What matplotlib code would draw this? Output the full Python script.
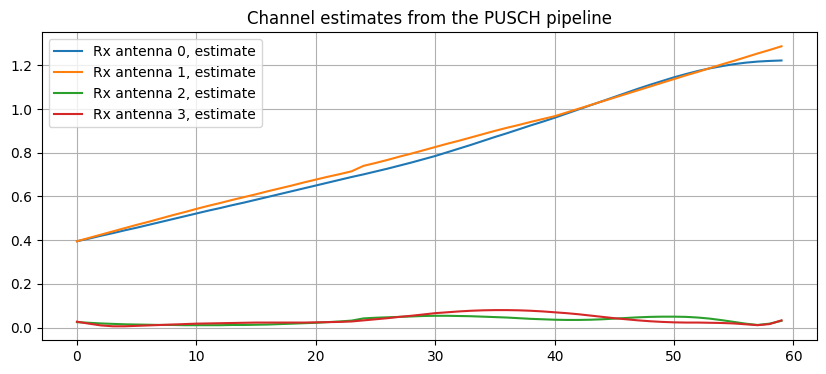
import numpy as np
import matplotlib
matplotlib.use('Agg')
import matplotlib.pyplot as plt

subcarrier = np.arange(60)

ant0 = [0.395, 0.407, 0.420, 0.432, 0.445, 0.457, 0.470, 0.483, 0.496, 0.509,
        0.522, 0.535, 0.547, 0.560, 0.572, 0.585, 0.598, 0.611, 0.624, 0.637,
        0.650, 0.663, 0.676, 0.689, 0.701, 0.714, 0.727, 0.741, 0.755, 0.770,
        0.785, 0.802, 0.819, 0.836, 0.854, 0.872, 0.889, 0.907, 0.925, 0.942,
        0.960, 0.979, 0.998, 1.017, 1.036, 1.055, 1.074, 1.093, 1.111, 1.128,
        1.145, 1.160, 1.174, 1.186, 1.196, 1.205, 1.212, 1.217, 1.220, 1.222]

ant1 = [0.395, 0.410, 0.425, 0.440, 0.455, 0.470, 0.484, 0.499, 0.514, 0.528,
        0.543, 0.557, 0.570, 0.584, 0.597, 0.610, 0.624, 0.637, 0.650, 0.664,
        0.677, 0.690, 0.702, 0.715, 0.740, 0.753, 0.767, 0.782, 0.796, 0.811,
        0.826, 0.841, 0.855, 0.870, 0.885, 0.900, 0.914, 0.927, 0.941, 0.954,
        0.967, 0.984, 1.001, 1.018, 1.035, 1.052, 1.069, 1.086, 1.103, 1.120,
        1.137, 1.154, 1.170, 1.187, 1.204, 1.220, 1.237, 1.254, 1.270, 1.287]

ant2 = [0.025, 0.022, 0.019, 0.017, 0.015, 0.014, 0.013, 0.012, 0.012, 0.011,
        0.011, 0.011, 0.011, 0.012, 0.012, 0.013, 0.014, 0.016, 0.018, 0.020,
        0.022, 0.025, 0.028, 0.032, 0.042, 0.045, 0.047, 0.049, 0.051, 0.053,
        0.054, 0.054, 0.053, 0.052, 0.050, 0.048, 0.046, 0.043, 0.040, 0.038,
        0.036, 0.035, 0.035, 0.036, 0.038, 0.041, 0.044, 0.047, 0.049, 0.050,
        0.050, 0.049, 0.046, 0.041, 0.034, 0.026, 0.018, 0.012, 0.018, 0.031]

ant3 = [0.027, 0.018, 0.010, 0.006, 0.006, 0.008, 0.010, 0.012, 0.014, 0.016,
        0.018, 0.019, 0.020, 0.021, 0.022, 0.023, 0.023, 0.023, 0.023, 0.023,
        0.024, 0.025, 0.026, 0.028, 0.033, 0.038, 0.043, 0.049, 0.054, 0.060,
        0.066, 0.070, 0.074, 0.077, 0.079, 0.080, 0.080, 0.079, 0.077, 0.074,
        0.070, 0.066, 0.061, 0.055, 0.049, 0.043, 0.038, 0.033, 0.029, 0.026,
        0.024, 0.023, 0.023, 0.022, 0.021, 0.019, 0.015, 0.011, 0.016, 0.033]

series = [ant0, ant1, ant2, ant3]

fig, ax = plt.subplots(figsize=(10, 4), dpi=100)
for i, vals in enumerate(series):
    ax.plot(subcarrier, vals, label='Rx antenna %d, estimate' % i)
ax.set_title('Channel estimates from the PUSCH pipeline')
ax.grid(True)
ax.legend(loc='upper left')
fig.savefig('out.png', bbox_inches='tight')
